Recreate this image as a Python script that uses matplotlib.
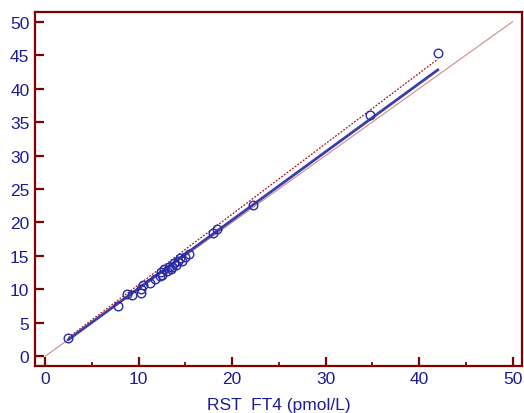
import matplotlib
matplotlib.use("Agg")
import matplotlib.pyplot as plt
from matplotlib.ticker import MultipleLocator

plt.rcParams['font.family'] = ['Liberation Sans', 'DejaVu Sans']

x_vals = [2.5, 7.8, 8.8, 9.3, 10.3, 10.3, 10.5, 11.2, 11.8, 12.3, 12.4, 12.5, 12.7,
          13.0, 13.3, 13.5, 13.6, 13.8, 14.0, 14.2, 14.4, 14.6, 15.0, 15.4,
          18.0, 18.4, 22.2, 34.8, 42.0]
y_vals = [2.7, 7.5, 9.3, 9.2, 9.5, 10.0, 10.7, 11.0, 11.5, 12.0, 12.6, 12.2, 13.1,
          12.8, 13.4, 13.0, 13.4, 13.9, 13.6, 14.3, 14.7, 14.2, 14.8, 15.3,
          18.5, 19.0, 22.6, 36.1, 45.4]

identity_x = [0, 50]
identity_y = [0, 50]
fit_x = [2.5, 42.0]
fit_y = [2.5, 42.8]
upper_x = [2.5, 42.0]
upper_y = [2.8, 44.4]

xlabel = "RST  FT4 (pmol/L)"

spine_c = "#800000"
text_c = "#1c1c96"
blue = "#3a3fa8"

fig = plt.figure(figsize=(5.24, 4.14), dpi=100)
ax = fig.add_axes([0.0668, 0.1143, 0.9288, 0.855])

ax.plot(identity_x, identity_y, color="#d08888", lw=0.8, zorder=1)
ax.plot(upper_x, upper_y, color="#a01818", lw=0.9, ls=(0, (1.5, 1.2)), zorder=2)
ax.plot(fit_x, fit_y, color=blue, lw=2.0, zorder=3)
ax.plot(x_vals, y_vals, 'o', mfc='none', mec="#2a2aa8", mew=1.0, ms=6.2, zorder=4)

ax.set_xlim(-1.07, 50.98)
ax.set_ylim(-1.40, 51.5)

ax.xaxis.set_major_locator(MultipleLocator(10))
ax.xaxis.set_minor_locator(MultipleLocator(5))
ax.yaxis.set_major_locator(MultipleLocator(5))

for s in ax.spines.values():
    s.set_color(spine_c)
    s.set_linewidth(1.6)

ax.tick_params(axis='both', which='major', direction='in', length=6.5, width=1.6,
               color=spine_c, labelcolor=text_c, labelsize=12.5, pad=4)
ax.tick_params(axis='x', which='minor', direction='in', length=3, width=1.3, color=spine_c)
ax.tick_params(axis='y', which='minor', left=False)

ax.set_xlabel(xlabel, color=text_c, fontsize=12.5, labelpad=8)

fig.savefig("out.png", dpi=100)
